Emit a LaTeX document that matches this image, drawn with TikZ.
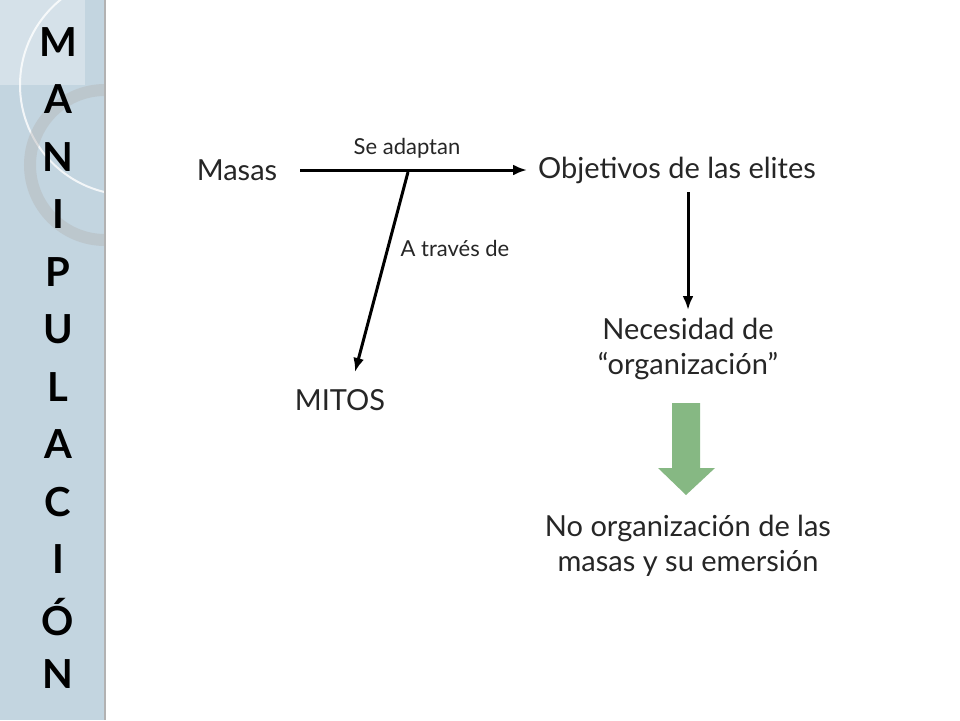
\documentclass[tikz,border=0pt]{standalone}
\usepackage{fontspec}
\setmainfont{Lato}
\usetikzlibrary{arrows.meta}
\definecolor{sidebg}{HTML}{C3D5E0}
\definecolor{garr}{HTML}{86B883}
\begin{document}
\begin{tikzpicture}[x=1pt,y=-1pt,
  lbl/.style={font=\fontsize{29}{35}\selectfont, text=black!85},
  small/.style={font=\fontsize{22}{24}\selectfont, text=black!85},
  side/.style={font=\fontsize{40}{42}\selectfont\bfseries, text=black},
  arr/.style={-{Latex[length=14pt,width=11pt]}, line width=3pt}]
\useasboundingbox (0,0) rectangle (960,720);
\fill[white] (0,0) rectangle (960,720);
\fill[sidebg] (0,0) rectangle (105,720);
\begin{scope}
\clip (0,0) rectangle (105,720);
\fill[white,opacity=0.3] (0,0) rectangle (85,85);
\draw[white,opacity=0.8,line width=2pt] (130,85) circle (110);
\draw[gray!60,opacity=0.4,line width=12pt] (105,165) circle (75);
\end{scope}
\draw[gray!60,line width=2pt] (105,0) -- (105,720);
\foreach \l [count=\i from 0] in {M,A,N,I,P,U,L,A,C,I,Ó,N}
  \node[side] (s\i) at (58,{42+57.5*\i}) {\l};
\node[lbl] (masas) at (237,170) {Masas};
\node[lbl] (obj) at (677,170) {Objetivos de las elites};
\node[lbl,align=center] (nec) at (688,349) {Necesidad de\\``organización''};
\node[lbl] (mitos) at (340,400) {MITOS};
\node[lbl,align=center] (noorg) at (688,546) {No organización de las\\masas y su emersión};
\node[small] (sead) at (407,148) {Se adaptan};
\node[small] (atra) at (455,248) {A través de};
\coordinate (m1) at (300,170);
\coordinate (o1) at (527,170);
\draw[arr] (m1) -- (o1);
\coordinate (t1) at (408,172);
\coordinate (t2) at (355,372);
\draw[arr] (t1) -- (t2);
\coordinate (n0) at (688,192);
\coordinate (n1) at (688,310);
\draw[arr] (n0) -- (n1);
\fill[garr]
  (672,403) -- (700,403) -- (700,468) -- (715,468) -- (686,495) -- (658,468) -- (672,468) -- cycle;
\end{tikzpicture}
\end{document}
